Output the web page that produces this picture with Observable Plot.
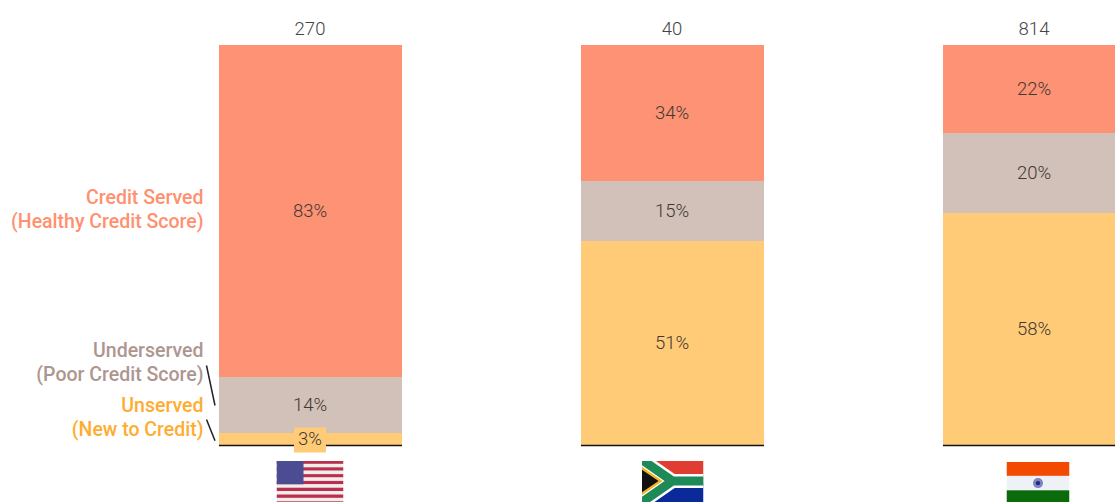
<!DOCTYPE html>
<html>
<head>
<meta charset="utf-8">
<script src="https://cdn.jsdelivr.net/npm/d3@7"></script>
<script src="https://cdn.jsdelivr.net/npm/@observablehq/plot@0.6"></script>
<style>
html,body{margin:0;padding:0;background:#fff;overflow:hidden}
svg{overflow:hidden}
</style>
</head>
<body>
<div id="chart"></div>
<script>
const countries = ["United States", "South Africa", "India"];
const totals = [270, 40, 814];
const unserved = [3, 51, 58];
const underserved = [14, 15, 20];
const creditServed = [83, 34, 22];
const segments = ["Unserved", "Underserved", "Credit Served"];
const segmentColors = ["#FFCB77", "#D2C1B8", "#FD9274"];
const labelColors = ["#FFAC30", "#AD9690", "#FF9070"];
const segmentLabels = ["Unserved\n(New to Credit)", "Underserved\n(Poor Credit Score)", "Credit Served\n(Healthy Credit Score)"];
const segmentLabelY = [7.25, 21, 59.25];

const font = "Roboto, sans-serif";
const rows = countries.flatMap((country, i) => [
  {country, segment: segments[0], value: unserved[i]},
  {country, segment: segments[1], value: underserved[i]},
  {country, segment: segments[2], value: creditServed[i]}
]);

const svgUri = s => "data:image/svg+xml," + encodeURIComponent(s);
const stripes = d3.range(13).map(i =>
  `<rect y="${i * 3.4}" width="67" height="3.4" fill="${i % 2 ? "#F1EDEA" : "#B8304F"}"/>`).join("");
const usFlag = svgUri(`<svg xmlns="http://www.w3.org/2000/svg" width="67" height="44" viewBox="0 0 67 44">${stripes}<rect width="27" height="23.8" fill="#4B4C92"/></svg>`);
const zaFlag = svgUri(`<svg xmlns="http://www.w3.org/2000/svg" width="62" height="44" viewBox="0 0 62 44">
<rect width="62" height="22" fill="#E03C31"/><rect y="22" width="62" height="22" fill="#0A2A9A"/>
<path d="M0 -1L31 20.5L0 42M31 20.5H62" fill="none" stroke="#fff" stroke-width="14"/>
<path d="M0 -1L31 20.5L0 42M31 20.5H62" fill="none" stroke="#1E8A58" stroke-width="9"/>
<path d="M0 6L21 20.5L0 35Z" fill="#F5B520"/><path d="M0 9L17 20.5L0 32Z" fill="#111"/></svg>`);
const inFlag = svgUri(`<svg xmlns="http://www.w3.org/2000/svg" width="63" height="43" viewBox="0 0 63 43">
<rect width="63" height="14.3" fill="#F24A00"/><rect y="14.3" width="63" height="14.4" fill="#EEF2F7"/><rect y="28.7" width="63" height="14.3" fill="#0B6A0B"/>
<circle cx="31.5" cy="21.5" r="5" fill="#7C84C4"/><circle cx="31.5" cy="21.5" r="2.2" fill="#1E2A80"/></svg>`);
const flags = [
  {country: countries[0], src: usFlag, w: 67, h: 44, y: -9.25, dx: -1},
  {country: countries[1], src: zaFlag, w: 62, h: 44, y: -9.25, dx: -0.5},
  {country: countries[2], src: inFlag, w: 63, h: 43, y: -9.4, dx: 3}
];

const leaders = [
  {x1: 206, x2: 214.5, y1: 20, y2: 10},
  {x1: 206, x2: 214.5, y1: 6.5, y2: 1.2}
];
const smallRows = rows.filter(d => d.value < 5);

const chart = Plot.plot({
  width: 1115,
  height: 502,
  margin: 0,
  style: {background: "#fff", fontFamily: font},
  x: {type: "band", domain: countries, range: [219, 1126], paddingInner: 0.4945, paddingOuter: 0, align: 0, axis: null},
  y: {domain: [0, 100], range: [445, 45], axis: null},
  color: {domain: segments, range: segmentColors},
  marks: [
    Plot.barY(rows, {x: "country", y: "value", fill: "segment", order: null}),
    Plot.tickY(countries, {x: d => d, y: () => 0, stroke: "#111", strokeWidth: 1.5}),
    Plot.tickY(smallRows, {
      x: "country", y: d => d.value / 2, dy: 0.5, stroke: "#FFCB77", strokeWidth: 25,
      insetLeft: 75, insetRight: 76
    }),
    Plot.text(rows, Plot.stackY({
      x: "country", y: "value", order: null, text: d => d.value + "%",
      fontSize: 18.5, fontWeight: 300, fill: "#3f3835", dx: -1, dy: -0.5
    })),
    Plot.text(countries, {
      x: d => d, y: () => 104, text: (d, i) => String(totals[i]),
      fontSize: 18.5, fontWeight: 300, fill: "#444", dx: -1
    }),
    Plot.text(segmentLabels, {
      x: () => countries[0], y: (d, i) => segmentLabelY[i], text: d => d,
      fill: (d, i) => labelColors[i], fontSize: 19.5, fontWeight: 500,
      textAnchor: "end", dx: -107.5, lineHeight: 1.23
    }),
    Plot.link(leaders, {
      x1: {value: d => d.x1, scale: null}, x2: {value: d => d.x2, scale: null},
      y1: "y1", y2: "y2", dx: -91.5, stroke: "#222", strokeWidth: 1.5
    }),
    ...flags.map(f => Plot.image([f], {
      x: "country", y: "y", src: "src", width: f.w, height: f.h, dx: f.dx, preserveAspectRatio: "none"
    }))
  ]
});
document.getElementById("chart").append(chart);
</script>
</body>
</html>
